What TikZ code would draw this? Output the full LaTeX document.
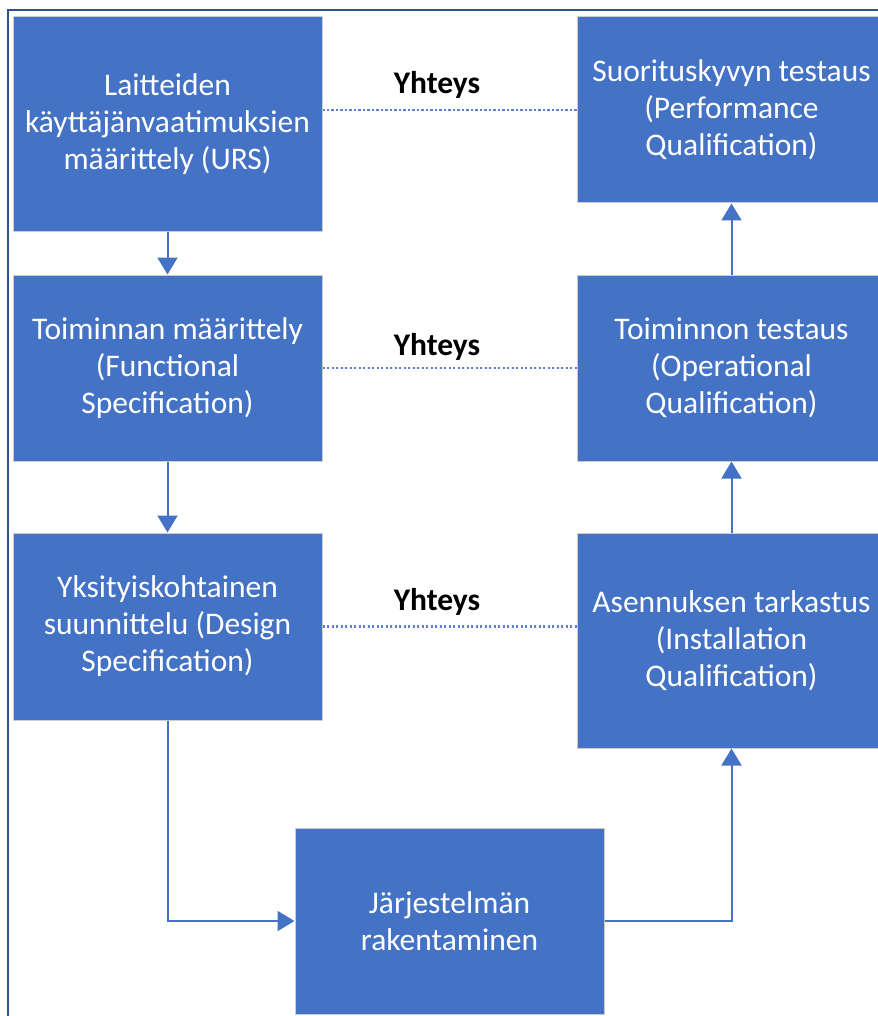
\documentclass[tikz,border=0pt]{standalone}
\usepackage{fontspec}
\setmainfont{Carlito}
\usetikzlibrary{arrows.meta}
\definecolor{laatikko}{HTML}{4472C4}
\definecolor{kehys}{HTML}{2F528F}
\definecolor{pisteet}{HTML}{5B84D0}

\begin{document}
\begin{tikzpicture}[
        vaihe/.style={draw=white!80!black, line width=1pt, fill=laatikko, text=white,
            minimum width=309pt, align=center, inner sep=0pt,
            font=\fontsize{31.5pt}{37pt}\selectfont},
        nuoli/.style={draw=laatikko, line width=2pt, -{Triangle[length=17pt,width=20pt]}},
        yhteys/.style={draw=pisteet, line width=2.2pt, dash pattern=on 2.2pt off 2.3pt},
        otsake/.style={text=black, font=\fontsize{31.5pt}{37pt}\selectfont\bfseries}
    ]
                    \useasboundingbox (0pt,0pt) rectangle (877pt,-1016pt);
                    \draw[kehys, line width=2pt] (8pt,-1020pt) -- (8pt,-10pt) -- (880pt,-10pt);

                    \node[vaihe, minimum height=215pt] (urs) at (167.5pt,-124.5pt) {Laitteiden\\käyttäjänvaatimuksien\\määrittely (URS)};
                    \node[vaihe, minimum height=186pt] (fs) at (167.5pt,-368pt) {Toiminnan määrittely\\(Functional\\Specification)};
                    \node[vaihe, minimum height=187pt] (ds) at (167.5pt,-626.5pt) {Yksityiskohtainen\\suunnittelu (Design\\Specification)};
                    \node[vaihe, minimum height=186pt] (build) at (449.5pt,-921pt) {Järjestelmän\\rakentaminen};
                    \node[vaihe, minimum height=215pt] (iq) at (731.5pt,-640.5pt) {Asennuksen tarkastus\\(Installation\\Qualification)};
                    \node[vaihe, minimum height=186pt] (oq) at (731.5pt,-368pt) {Toiminnon testaus\\(Operational\\Qualification)};
                    \node[vaihe, minimum height=186pt] (pq) at (731.5pt,-110pt) {Suorituskyvyn testaus\\(Performance\\Qualification)};

                    \draw[nuoli] (urs.south) -- (fs.north);
                    \draw[nuoli] (fs.south) -- (ds.north);
                    \draw[nuoli] (ds.south) |- (build.west);
                    \draw[nuoli] (build.east) -| (iq.south);
                    \draw[nuoli] (iq.north) -- (oq.south);
                    \draw[nuoli] (oq.north) -- (pq.south);

                    \draw[yhteys] (pq.west) -- (pq.west -| urs.east);
                    \draw[yhteys] (fs.east) -- (oq.west);
                    \draw[yhteys] (ds.east) -- (ds.east -| iq.west);

                    \node[otsake] (y1) at (437pt,-85pt) {Yhteys};
                    \node[otsake] (y2) at (437pt,-347pt) {Yhteys};
                    \node[otsake] (y3) at (437pt,-602pt) {Yhteys};
                \end{tikzpicture}
\end{document}
